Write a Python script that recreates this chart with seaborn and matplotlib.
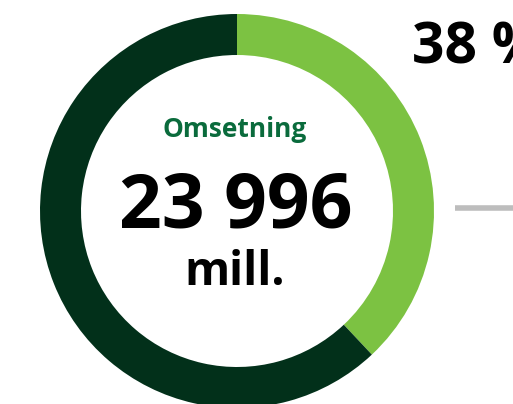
import matplotlib
matplotlib.use("Agg")
import matplotlib.pyplot as plt
import seaborn as sns

sns.set_theme(style="white")
plt.rcParams['font.family'] = ['Open Sans', 'DejaVu Sans']

# andel av omsetning
segments = ["Andel", "Resten"]
shares = [38, 62]
colors = ["#7cc242", "#02301a"]

title_label = "Omsetning"
total_label = "23 996"
unit_label = "mill."
share_label = "38 %"

W, H = 513, 404
fig = plt.figure(figsize=(W / 100, H / 100), dpi=100)
ax = fig.add_axes([0, 0, 1, 1])

# ring
ax.pie(
    shares,
    colors=colors,
    startangle=90,
    counterclock=False,
    radius=197,
    center=(237, H - 211),
    wedgeprops=dict(width=41, edgecolor="none"),
    frame=True,
)

ax.set_xlim(0, W)
ax.set_ylim(0, H)
ax.set_aspect("equal")
ax.axis("off")

# tekst i midten
ax.text(235, H - 137, title_label, ha="center", va="baseline",
        fontsize=19, fontweight="bold", color="#0a6b3c")
ax.text(236, H - 228, total_label, ha="center", va="baseline",
        fontsize=54, fontweight="bold", color="black")
ax.text(235, H - 285, unit_label, ha="center", va="baseline",
        fontsize=33, fontweight="bold", color="black")

# prosent og strek til høyre
ax.text(412, H - 63, share_label, ha="left", va="baseline",
        fontsize=41, fontweight="bold", color="black", clip_on=False)
ax.plot([455, 513], [H - 208, H - 208], color="#bdbdbd", lw=4, solid_capstyle="butt")

fig.savefig("out.png", dpi=100)
plt.close(fig)
